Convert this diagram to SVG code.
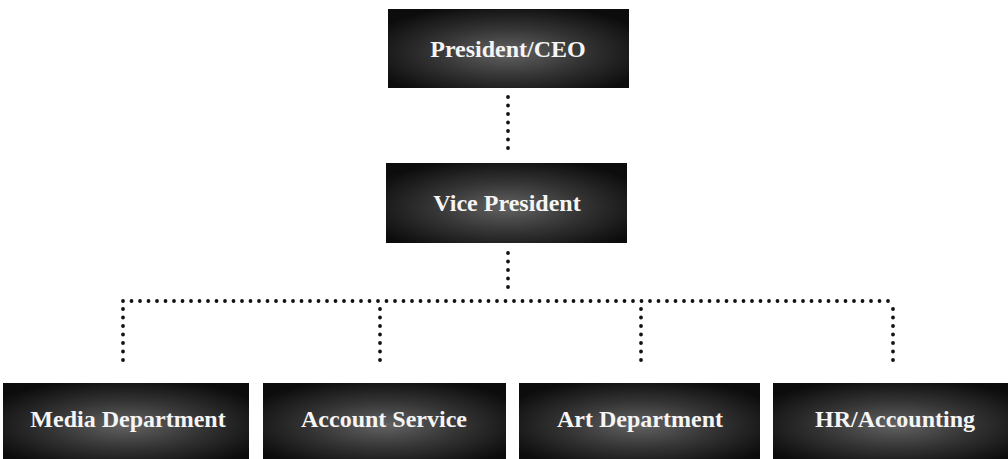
<svg xmlns="http://www.w3.org/2000/svg" width="1008" height="459" viewBox="0 0 1008 459">
  <style>
    .box { fill: url(#boxShade); }
    .label { font-family: "Liberation Serif", "DejaVu Serif", serif; font-weight: bold; font-size: 24px; fill: #f5f5f5; text-anchor: middle; }
    .dots { fill: none; stroke: #111; stroke-width: 3.8; stroke-linecap: round; stroke-dasharray: 0 8.5; }
  </style>
  <defs>
    <radialGradient id="boxShade" cx="50%" cy="55%" r="62%">
      <stop offset="0" stop-color="#626262"/>
      <stop offset="0.5" stop-color="#343434"/>
      <stop offset="1" stop-color="#0c0c0c"/>
    </radialGradient>
  </defs>

  <!-- dotted connectors -->
  <g id="connectors">
    <path class="dots" d="M508 97 V156"/>
    <path class="dots" d="M508 253 V292"/>
    <path class="dots" d="M123 301 H893"/>
    <path class="dots" d="M123 309 V368"/>
    <path class="dots" d="M380 309 V368"/>
    <path class="dots" d="M641 309 V368"/>
    <path class="dots" d="M893 309 V368"/>
  </g>

  <g id="president">
    <rect class="box" x="388" y="9" width="241" height="79"/>
    <text class="label" x="508" y="57">President/CEO</text>
  </g>

  <g id="vice-president">
    <rect class="box" x="386" y="163" width="241" height="80"/>
    <text class="label" x="507" y="211">Vice President</text>
  </g>

  <g id="media-department">
    <rect class="box" x="3" y="383" width="246" height="76"/>
    <text class="label" x="128" y="427">Media Department</text>
  </g>

  <g id="account-service">
    <rect class="box" x="263" y="383" width="243" height="76"/>
    <text class="label" x="384" y="427">Account Service</text>
  </g>

  <g id="art-department">
    <rect class="box" x="519" y="383" width="241" height="76"/>
    <text class="label" x="640" y="427">Art Department</text>
  </g>

  <g id="hr-accounting">
    <rect class="box" x="773" y="383" width="245" height="76"/>
    <text class="label" x="895" y="427">HR/Accounting</text>
  </g>
</svg>
